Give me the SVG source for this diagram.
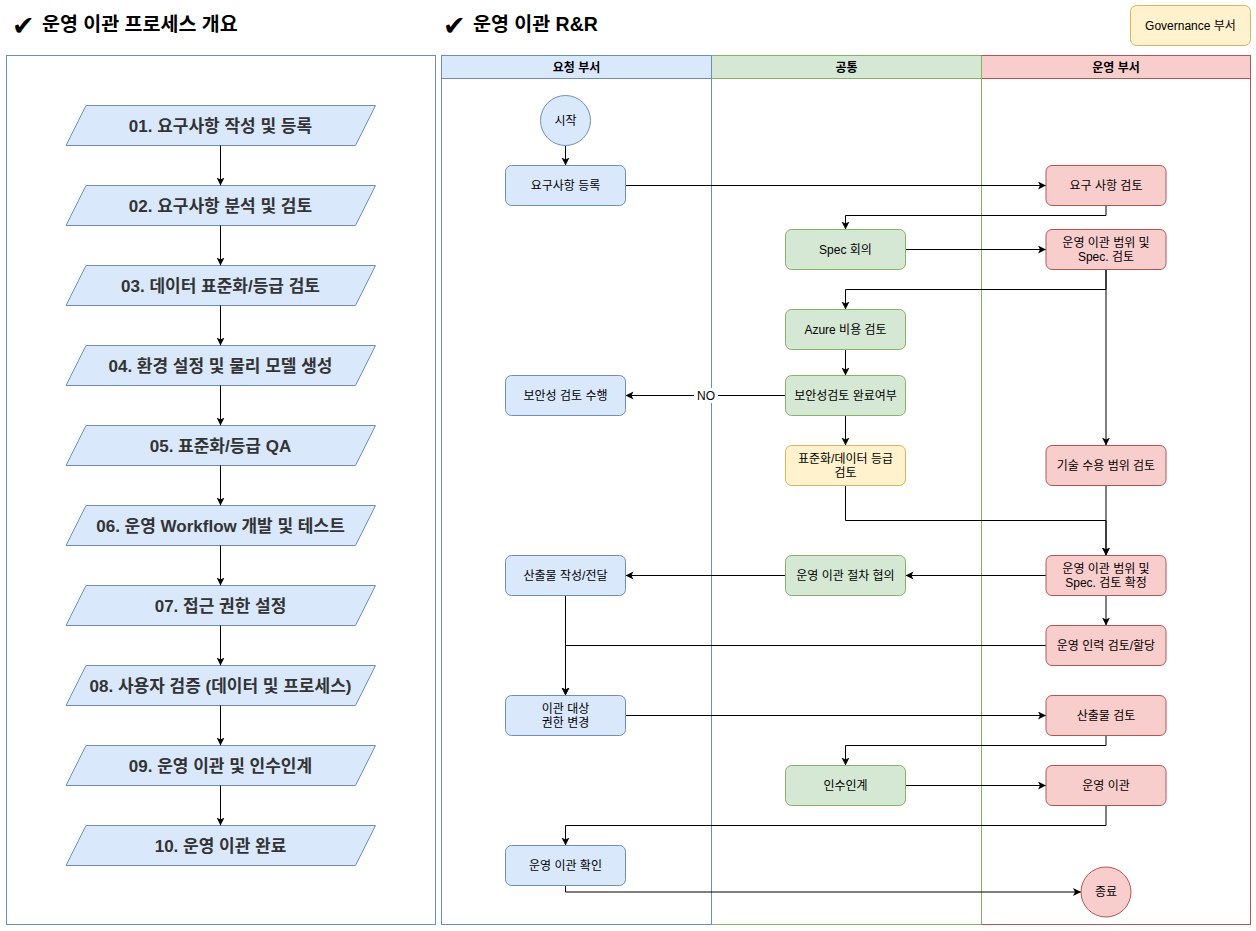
<svg xmlns="http://www.w3.org/2000/svg" width="1256" height="931" viewBox="0 0 1256 931">
<style>
text{font-family:"Liberation Sans","Noto Sans CJK KR",sans-serif;}
.title{font-size:19.5px;font-weight:bold;fill:#000;}
.chk{font-family:"DejaVu Sans",sans-serif;font-size:27px;fill:#000;}
.para{fill:#dae8fc;stroke:#6c8ebf;stroke-width:1;}
.ptxt{font-size:17px;font-weight:bold;fill:#333;text-anchor:middle;dominant-baseline:central;}
.lbl{font-size:12px;fill:#000;text-anchor:middle;dominant-baseline:central;}
.hdr{font-size:12px;font-weight:bold;fill:#000;text-anchor:middle;dominant-baseline:central;}
.blue{fill:#dae8fc;stroke:#6c8ebf;}
.green{fill:#d5e8d4;stroke:#82b366;}
.red{fill:#f8cecc;stroke:#b85450;}
.yellow{fill:#fff2cc;stroke:#d6b656;}
.conn path{fill:none;stroke:#000;stroke-width:1;marker-end:url(#arr);}
</style>
<defs>
<marker id="arr" markerUnits="userSpaceOnUse" markerWidth="10" markerHeight="10" refX="8" refY="4" orient="auto">
<path d="M0,0 L8,4 L0,8 L2,4 z" fill="#000"/>
</marker>
</defs>
<rect width="1256" height="931" fill="#fff"/>

<!-- titles -->
<g id="title-left">
<text class="chk" x="12" y="35">✔</text>
<text class="title" x="42" y="31">운영 이관 프로세스 개요</text>
</g>
<g id="title-right">
<text class="chk" x="443" y="35">✔</text>
<text class="title" x="473" y="31">운영 이관 R&amp;R</text>
</g>
<g id="governance">
<rect class="yellow" x="1130.5" y="5.5" width="120" height="40" rx="6"/>
<text class="lbl" x="1190.5" y="25.5">Governance 부서</text>
</g>

<!-- left panel -->
<rect x="6.5" y="55.5" width="429" height="869" fill="#fff" stroke="#6c8ebf"/>

<g id="steps">
<g id="s01"><path class="para" d="M86,105.5 H375.5 L355.5,145.5 H66 Z"/><text class="ptxt" x="220.5" y="126">01. 요구사항 작성 및 등록</text></g>
<g id="s02"><path class="para" d="M86,185.5 H375.5 L355.5,225.5 H66 Z"/><text class="ptxt" x="220.5" y="206">02. 요구사항 분석 및 검토</text></g>
<g id="s03"><path class="para" d="M86,265.5 H375.5 L355.5,305.5 H66 Z"/><text class="ptxt" x="220.5" y="286">03. 데이터 표준화/등급 검토</text></g>
<g id="s04"><path class="para" d="M86,345.5 H375.5 L355.5,385.5 H66 Z"/><text class="ptxt" x="220.5" y="366">04. 환경 설정 및 물리 모델 생성</text></g>
<g id="s05"><path class="para" d="M86,425.5 H375.5 L355.5,465.5 H66 Z"/><text class="ptxt" x="220.5" y="446">05. 표준화/등급 QA</text></g>
<g id="s06"><path class="para" d="M86,505.5 H375.5 L355.5,545.5 H66 Z"/><text class="ptxt" x="220.5" y="526">06. 운영 Workflow 개발 및 테스트</text></g>
<g id="s07"><path class="para" d="M86,585.5 H375.5 L355.5,625.5 H66 Z"/><text class="ptxt" x="220.5" y="606">07. 접근 권한 설정</text></g>
<g id="s08"><path class="para" d="M86,665.5 H375.5 L355.5,705.5 H66 Z"/><text class="ptxt" x="220.5" y="686">08. 사용자 검증 (데이터 및 프로세스)</text></g>
<g id="s09"><path class="para" d="M86,745.5 H375.5 L355.5,785.5 H66 Z"/><text class="ptxt" x="220.5" y="766">09. 운영 이관 및 인수인계</text></g>
<g id="s10"><path class="para" d="M86,825.5 H375.5 L355.5,865.5 H66 Z"/><text class="ptxt" x="220.5" y="846">10. 운영 이관 완료</text></g>
</g>

<!-- swimlanes -->
<g id="lanes">
<rect x="441.5" y="55.5" width="270" height="869" fill="#fff" stroke="#6c8ebf"/>
<rect x="441.5" y="55.5" width="270" height="23" fill="#dae8fc" stroke="#6c8ebf"/>
<text class="hdr" x="576.5" y="67.5">요청 부서</text>
<rect x="711.5" y="55.5" width="270" height="869" fill="#fff" stroke="#82b366"/>
<rect x="711.5" y="55.5" width="270" height="23" fill="#d5e8d4" stroke="#82b366"/>
<text class="hdr" x="846.5" y="67.5">공통</text>
<rect x="981.5" y="55.5" width="269" height="869" fill="#fff" stroke="#b85450"/>
<rect x="981.5" y="55.5" width="269" height="23" fill="#f8cecc" stroke="#b85450"/>
<text class="hdr" x="1116" y="67.5">운영 부서</text>
<line x1="711.5" y1="55.5" x2="711.5" y2="924.5" stroke="#6c8ebf"/>
<line x1="981.5" y1="55.5" x2="981.5" y2="924.5" stroke="#82b366"/>
</g>

<!-- connectors -->
<g class="conn" id="connectors">
<path d="M220.5,145.5 V185.5"/>
<path d="M220.5,225.5 V265.5"/>
<path d="M220.5,305.5 V345.5"/>
<path d="M220.5,385.5 V425.5"/>
<path d="M220.5,465.5 V505.5"/>
<path d="M220.5,545.5 V585.5"/>
<path d="M220.5,625.5 V665.5"/>
<path d="M220.5,705.5 V745.5"/>
<path d="M220.5,785.5 V825.5"/>

<path d="M565.5,145.5 V165.5"/>
<path d="M625.5,185.5 H1046"/>
<path d="M1106,205.5 V215.5 H845.5 V229.5"/>
<path d="M905.5,249.5 H1046"/>
<path d="M1106,269.5 V289.5 H845.5 V309.5"/>
<path d="M1106,269.5 V445.5"/>
<path d="M845.5,349.5 V375.5"/>
<path d="M785.5,395.5 H625.5"/>
<path d="M845.5,415.5 V445.5"/>
<path d="M845.5,485.5 V520.5 H1106 V555.5"/>
<path d="M1106,485.5 V555.5"/>
<path d="M1046,575.5 H905.5"/>
<path d="M785.5,575.5 H625.5"/>
<path d="M1106,595.5 V625.5"/>
<path d="M1046,645.5 H565.5 V695.5"/>
<path d="M565.5,595.5 V695.5"/>
<path d="M625.5,715.5 H1046"/>
<path d="M1106,735.5 V745.5 H845.5 V765.5"/>
<path d="M905.5,785.5 H1046"/>
<path d="M1106,805.5 V825.5 H565.5 V845.5"/>
<path d="M565.5,885.5 V892 H1081"/>
</g>
<g id="no-label">
<rect x="694" y="388" width="24" height="15" fill="#fff"/>
<text class="lbl" x="706" y="396">NO</text>
</g>

<!-- nodes -->
<g id="start"><circle class="blue" cx="565.5" cy="120.5" r="25"/><text class="lbl" x="565.5" y="120.5">시작</text></g>
<g id="req-reg"><rect class="blue" x="505.5" y="165.5" width="120" height="40" rx="6"/><text class="lbl" x="565.5" y="185.5">요구사항 등록</text></g>
<g id="req-review"><rect class="red" x="1046" y="165.5" width="120" height="40" rx="6"/><text class="lbl" x="1106" y="185.5">요구 사항 검토</text></g>
<g id="spec-meeting"><rect class="green" x="785.5" y="229.5" width="120" height="40" rx="6"/><text class="lbl" x="845.5" y="249.5">Spec 회의</text></g>
<g id="scope-review"><rect class="red" x="1046" y="229.5" width="120" height="40" rx="6"/><text class="lbl" x="1106" y="242.5">운영 이관 범위 및</text><text class="lbl" x="1106" y="256.5">Spec. 검토</text></g>
<g id="azure-cost"><rect class="green" x="785.5" y="309.5" width="120" height="40" rx="6"/><text class="lbl" x="845.5" y="329.5">Azure 비용 검토</text></g>
<g id="sec-check"><rect class="green" x="785.5" y="375.5" width="120" height="40" rx="6"/><text class="lbl" x="845.5" y="395.5">보안성검토 완료여부</text></g>
<g id="sec-do"><rect class="blue" x="505.5" y="375.5" width="120" height="40" rx="6"/><text class="lbl" x="565.5" y="395.5">보안성 검토 수행</text></g>
<g id="std-review"><rect class="yellow" x="785.5" y="445.5" width="120" height="40" rx="6"/><text class="lbl" x="845.5" y="458.5">표준화/데이터 등급</text><text class="lbl" x="845.5" y="472.5">검토</text></g>
<g id="tech-review"><rect class="red" x="1046" y="445.5" width="120" height="40" rx="6"/><text class="lbl" x="1106" y="465.5">기술 수용 범위 검토</text></g>
<g id="scope-confirm"><rect class="red" x="1046" y="555.5" width="120" height="40" rx="6"/><text class="lbl" x="1106" y="568.5">운영 이관 범위 및</text><text class="lbl" x="1106" y="582.5">Spec. 검토 확정</text></g>
<g id="proc-agree"><rect class="green" x="785.5" y="555.5" width="120" height="40" rx="6"/><text class="lbl" x="845.5" y="575.5">운영 이관 절차 협의</text></g>
<g id="deliv-make"><rect class="blue" x="505.5" y="555.5" width="120" height="40" rx="6"/><text class="lbl" x="565.5" y="575.5">산출물 작성/전달</text></g>
<g id="staff"><rect class="red" x="1046" y="625.5" width="120" height="40" rx="6"/><text class="lbl" x="1106" y="645.5">운영 인력 검토/할당</text></g>
<g id="perm-change"><rect class="blue" x="505.5" y="695.5" width="120" height="40" rx="6"/><text class="lbl" x="565.5" y="708.5">이관 대상</text><text class="lbl" x="565.5" y="722.5">권한 변경</text></g>
<g id="deliv-review"><rect class="red" x="1046" y="695.5" width="120" height="40" rx="6"/><text class="lbl" x="1106" y="715.5">산출물 검토</text></g>
<g id="handover"><rect class="green" x="785.5" y="765.5" width="120" height="40" rx="6"/><text class="lbl" x="845.5" y="785.5">인수인계</text></g>
<g id="migrate"><rect class="red" x="1046" y="765.5" width="120" height="40" rx="6"/><text class="lbl" x="1106" y="785.5">운영 이관</text></g>
<g id="confirm"><rect class="blue" x="505.5" y="845.5" width="120" height="40" rx="6"/><text class="lbl" x="565.5" y="865.5">운영 이관 확인</text></g>
<g id="end"><circle class="red" cx="1106" cy="892" r="25"/><text class="lbl" x="1106" y="892">종료</text></g>
</svg>
